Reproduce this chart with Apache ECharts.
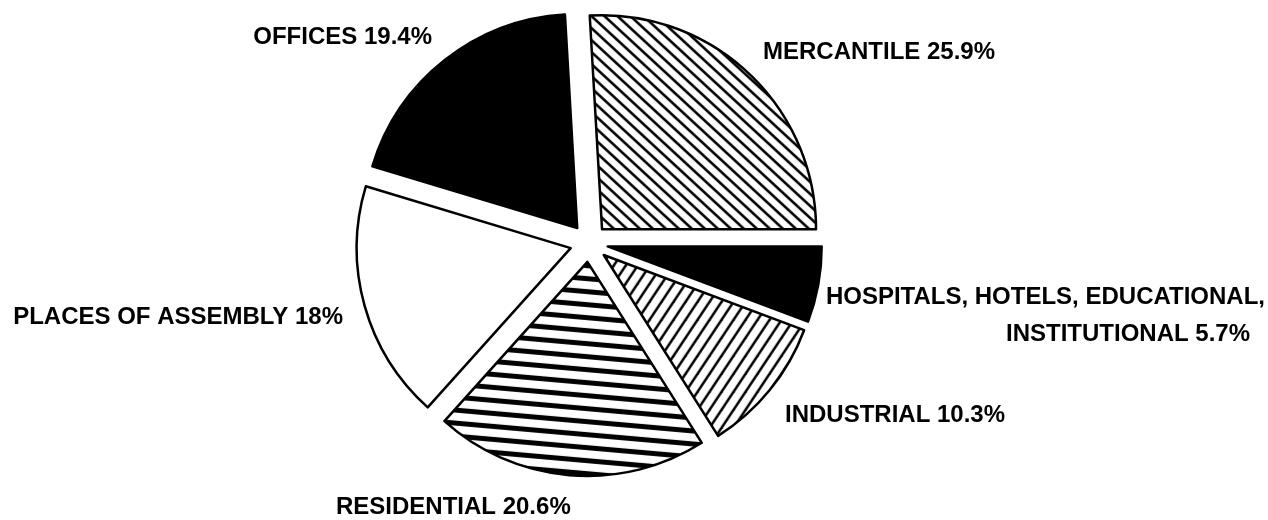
<!DOCTYPE html>
<html>
<head>
<meta charset="utf-8">
<script src="https://cdn.jsdelivr.net/npm/echarts@6/dist/echarts.min.js"></script>
<style>
html,body{margin:0;padding:0;background:#fff;}
#chart{width:1268px;height:520px;}
</style>
</head>
<body>
<div id="chart"></div>
<script>
// ---- data ----
const categories = [
  'MERCANTILE',
  'HOSPITALS, HOTELS, EDUCATIONAL,\nINSTITUTIONAL',
  'INDUSTRIAL',
  'RESIDENTIAL',
  'PLACES OF ASSEMBLY',
  'OFFICES'
];
const values = [25.9, 5.7, 10.3, 20.6, 18, 19.4];
const fills = ['hatchBack', 'black', 'hatchFwd', 'stripes', 'white', 'black'];

// ---- layout (label anchors per text line: x, y, align) ----
const labelAnchors = [
  [[763, 52, 'left']],
  [[1265, 297, 'right'], [1250, 334, 'right']],
  [[785, 415, 'left']],
  [[336, 507, 'left']],
  [[343, 317, 'right']],
  [[432, 37, 'right']]
];

function hatch(w, h, lw, dir) {
  const c = document.createElement('canvas');
  c.width = w; c.height = h;
  const g = c.getContext('2d');
  g.fillStyle = '#fff';
  g.fillRect(0, 0, w, h);
  g.strokeStyle = '#000';
  g.lineWidth = lw;
  for (let k = -3; k <= 3; k++) {
    g.beginPath();
    const x0 = k * w;
    if (dir === 'back') {
      g.moveTo(x0 - w, -h); g.lineTo(x0 + 2 * w, 2 * h);
    } else {
      g.moveTo(x0 - w, 2 * h); g.lineTo(x0 + 2 * w, -h);
    }
    g.stroke();
  }
  return c;
}

const patterns = {
  hatchBack: { image: hatch(13, 12, 2.6, 'back'), repeat: 'repeat' },
  hatchFwd: { image: hatch(12, 18, 2.5, 'fwd'), repeat: 'repeat' },
  stripes: { image: hatch(148, 13, 5, 'back'), repeat: 'repeat' },
  black: '#000',
  white: '#fff'
};

const chart = echarts.init(document.getElementById('chart'), null, { renderer: 'canvas' });

const data = categories.map((name, i) => ({
  name: name,
  value: values[i],
  selected: true,
  itemStyle: { color: patterns[fills[i]] }
}));

// text labels built from the data arrays
const labelElements = [];
categories.forEach((name, i) => {
  const lines = (name + ' ' + values[i] + '%').split('\n');
  lines.forEach((line, j) => {
    const a = labelAnchors[i][j];
    labelElements.push({
      type: 'text',
      x: a[0],
      y: a[1],
      silent: true,
      style: {
        text: line,
        fill: '#000',
        font: 'bold 24px "Liberation Sans", Arial, sans-serif',
        align: a[2],
        verticalAlign: 'middle'
      }
    });
  });
});

chart.setOption({
  animation: false,
  backgroundColor: '#fff',
  graphic: labelElements,
  series: [{
    type: 'pie',
    center: [589, 243],
    radius: 214,
    startAngle: 93.3,
    clockwise: true,
    selectedMode: 'multiple',
    selectedOffset: 19,
    avoidLabelOverlap: false,
    itemStyle: { borderColor: '#000', borderWidth: 2.5 },
    emphasis: { disabled: true },
    select: { itemStyle: { borderColor: '#000', borderWidth: 2.5 } },
    label: { show: false },
    labelLine: { show: false },
    data: data
  }]
});
</script>
</body>
</html>
